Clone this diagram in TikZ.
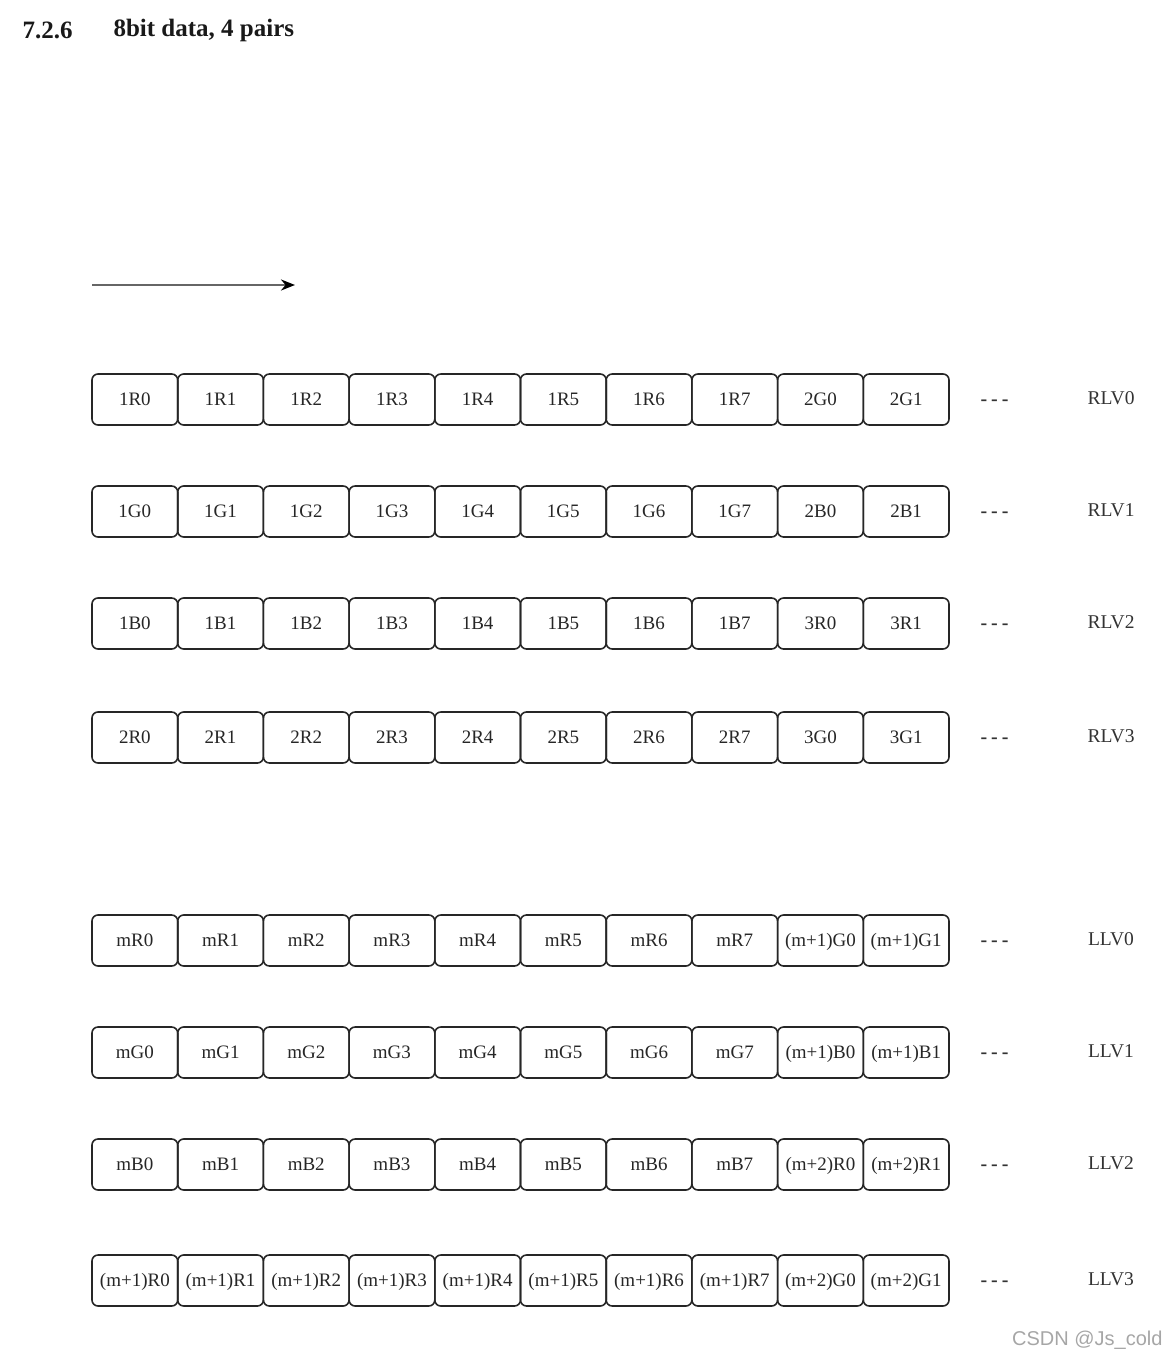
\documentclass[tikz,border=0pt]{standalone}
\usepackage{fontspec}
\usetikzlibrary{arrows.meta}
\setmainfont{Liberation Serif}
\newfontfamily\wmfont{Liberation Sans}
\begin{document}
\begin{tikzpicture}[x=1pt,y=-1pt,
  cell/.style={draw=black!85,line width=1.6pt,rounded corners=6pt,minimum width=85.7pt,minimum height=51pt,inner sep=0pt,text height=12pt,text depth=1pt,font=\fontsize{19}{21}\selectfont,text=black!85},
  lanelabel/.style={font=\fontsize{19.5}{22}\selectfont,text=black!80,anchor=center},
  dots/.style={font=\fontsize{20}{22}\selectfont\bfseries,text=black!80},
  titletext/.style={font=\fontsize{25}{28}\selectfont\bfseries,anchor=west,text=black!90}]
\useasboundingbox (0,0) rectangle (1168,1360);
\node[titletext] (secnum) at (19,30) {7.2.6};
\node[titletext] (sectitle) at (110,30) {8bit data, 4 pairs};
\coordinate (arrS) at (92,285);
\coordinate (arrE) at (295,285);
\draw[black!60,line width=2.6pt,-{Stealth[length=14pt,width=11pt,black]}] (arrS) -- (arrE);
% rows
\foreach \r/\y/\lab/\a/\b/\c/\d/\e/\f/\g/\h/\i/\j in {
 1/399.5/RLV0/1R0/1R1/1R2/1R3/1R4/1R5/1R6/1R7/2G0/2G1,
 2/511.5/RLV1/1G0/1G1/1G2/1G3/1G4/1G5/1G6/1G7/2B0/2B1,
 3/623.5/RLV2/1B0/1B1/1B2/1B3/1B4/1B5/1B6/1B7/3R0/3R1,
 4/737.5/RLV3/2R0/2R1/2R2/2R3/2R4/2R5/2R6/2R7/3G0/3G1,
 5/940.5/LLV0/mR0/mR1/mR2/mR3/mR4/mR5/mR6/mR7/(m+1)G0/(m+1)G1,
 6/1052.5/LLV1/mG0/mG1/mG2/mG3/mG4/mG5/mG6/mG7/(m+1)B0/(m+1)B1,
 7/1164.5/LLV2/mB0/mB1/mB2/mB3/mB4/mB5/mB6/mB7/(m+2)R0/(m+2)R1,
 8/1280.5/LLV3/(m+1)R0/(m+1)R1/(m+1)R2/(m+1)R3/(m+1)R4/(m+1)R5/(m+1)R6/(m+1)R7/(m+2)G0/(m+2)G1}{
  \node[cell] (r\r c1) at (134.85,\y) {\a};
  \node[cell] (r\r c2) at (220.55,\y) {\b};
  \node[cell] (r\r c3) at (306.25,\y) {\c};
  \node[cell] (r\r c4) at (391.95,\y) {\d};
  \node[cell] (r\r c5) at (477.65,\y) {\e};
  \node[cell] (r\r c6) at (563.35,\y) {\f};
  \node[cell] (r\r c7) at (649.05,\y) {\g};
  \node[cell] (r\r c8) at (734.75,\y) {\h};
  \node[cell] (r\r c9) at (820.45,\y) {\i};
  \node[cell] (r\r c10) at (906.15,\y) {\j};
  \node[dots] (r\r dots) at (994.5,\y+3) {-\hspace{4pt}-\hspace{4pt}-};
  \node[lanelabel] (r\r lab) at (1111,\y-1.5) {\lab};
}
\node[font=\wmfont\fontsize{20}{22}\selectfont,text=black!35,anchor=east] (wm) at (1166,1340) {CSDN @Js\_cold};
\end{tikzpicture}
\end{document}
